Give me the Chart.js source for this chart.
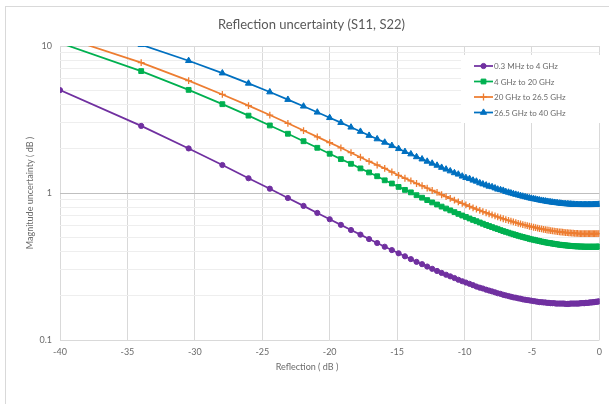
<!DOCTYPE html>
<html>
<head>
<meta charset="utf-8">
<title>Reflection uncertainty (S11, S22)</title>
<script src="https://cdn.jsdelivr.net/npm/chart.js@4.4.1/dist/chart.umd.min.js"></script>
<style>
  html, body { margin: 0; padding: 0; background: #fff; }
  #wrap { position: relative; width: 609px; height: 404px; }
</style>
</head>
<body>
<div id="wrap"><canvas id="my-chart" width="609" height="404"></canvas></div>
<script>
'use strict';

// ******** DATA **************
// x positions: reflection in dB (points step evenly in linear |rho|, so they crowd near 0 dB)
let reflectionDb = [
  -40.00, -33.98, -30.46, -27.96, -26.02, -24.44, -23.10, -21.94, -20.92, -20.00,
  -19.17, -18.42, -17.72, -17.08, -16.48, -15.92, -15.39, -14.89, -14.42, -13.98,
  -13.56, -13.15, -12.77, -12.40, -12.04, -11.70, -11.37, -11.06, -10.75, -10.46,
  -10.17, -9.90, -9.63, -9.37, -9.12, -8.87, -8.64, -8.40, -8.18, -7.96,
  -7.74, -7.54, -7.33, -7.13, -6.94, -6.74, -6.56, -6.38, -6.20, -6.02,
  -5.85, -5.68, -5.51, -5.35, -5.19, -5.04, -4.88, -4.73, -4.58, -4.44,
  -4.29, -4.15, -4.01, -3.88, -3.74, -3.61, -3.48, -3.35, -3.22, -3.10,
  -2.97, -2.85, -2.73, -2.62, -2.50, -2.38, -2.27, -2.16, -2.05, -1.94,
  -1.83, -1.72, -1.62, -1.51, -1.41, -1.31, -1.21, -1.11, -1.01, -0.92,
  -0.82, -0.72, -0.63, -0.54, -0.45, -0.35, -0.26, -0.18, -0.09, 0.00
];

// magnitude uncertainty (dB)
let bandLow = [
  5.01, 2.86, 2.01, 1.55, 1.26, 1.07, 0.925, 0.817, 0.732, 0.663,
  0.607, 0.560, 0.521, 0.486, 0.457, 0.431, 0.409, 0.389, 0.371, 0.355,
  0.340, 0.328, 0.316, 0.305, 0.295, 0.286, 0.278, 0.271, 0.264, 0.257,
  0.251, 0.246, 0.241, 0.236, 0.231, 0.227, 0.224, 0.220, 0.217, 0.214,
  0.211, 0.208, 0.206, 0.203, 0.201, 0.199, 0.197, 0.195, 0.194, 0.192,
  0.191, 0.189, 0.188, 0.187, 0.186, 0.185, 0.184, 0.183, 0.182, 0.181,
  0.181, 0.180, 0.180, 0.179, 0.179, 0.178, 0.178, 0.178, 0.177, 0.177,
  0.177, 0.177, 0.177, 0.177, 0.176, 0.176, 0.176, 0.177, 0.177, 0.177,
  0.177, 0.177, 0.177, 0.177, 0.178, 0.178, 0.178, 0.178, 0.179, 0.179,
  0.179, 0.180, 0.180, 0.180, 0.181, 0.181, 0.182, 0.182, 0.183, 0.183
];

let bandMid = [
  10.5, 6.75, 5.03, 4.02, 3.36, 2.88, 2.53, 2.25, 2.03, 1.85,
  1.70, 1.58, 1.47, 1.38, 1.30, 1.22, 1.16, 1.10, 1.05, 1.01,
  0.966, 0.929, 0.895, 0.863, 0.835, 0.808, 0.784, 0.762, 0.741, 0.721,
  0.703, 0.687, 0.671, 0.656, 0.643, 0.630, 0.618, 0.606, 0.596, 0.586,
  0.576, 0.568, 0.559, 0.551, 0.544, 0.537, 0.530, 0.524, 0.518, 0.512,
  0.507, 0.502, 0.497, 0.493, 0.488, 0.484, 0.481, 0.477, 0.474, 0.471,
  0.467, 0.465, 0.462, 0.459, 0.457, 0.455, 0.453, 0.451, 0.449, 0.447,
  0.445, 0.444, 0.442, 0.441, 0.440, 0.439, 0.438, 0.437, 0.436, 0.435,
  0.434, 0.434, 0.433, 0.433, 0.432, 0.432, 0.432, 0.431, 0.431, 0.431,
  0.431, 0.431, 0.431, 0.431, 0.431, 0.431, 0.431, 0.431, 0.432, 0.432
];

let bandHigh = [
  11.7, 7.70, 5.81, 4.68, 3.93, 3.39, 2.98, 2.66, 2.41, 2.20,
  2.03, 1.88, 1.75, 1.64, 1.55, 1.47, 1.39, 1.32, 1.26, 1.21,
  1.16, 1.12, 1.08, 1.04, 1.01, 0.973, 0.945, 0.918, 0.893, 0.870,
  0.849, 0.829, 0.810, 0.793, 0.776, 0.761, 0.747, 0.734, 0.721, 0.709,
  0.698, 0.687, 0.678, 0.668, 0.659, 0.651, 0.643, 0.636, 0.629, 0.622,
  0.616, 0.610, 0.604, 0.599, 0.594, 0.590, 0.585, 0.581, 0.577, 0.573,
  0.570, 0.566, 0.563, 0.560, 0.558, 0.555, 0.553, 0.550, 0.548, 0.546,
  0.544, 0.543, 0.541, 0.539, 0.538, 0.537, 0.536, 0.535, 0.534, 0.533,
  0.532, 0.531, 0.531, 0.530, 0.530, 0.529, 0.529, 0.529, 0.529, 0.529,
  0.529, 0.529, 0.529, 0.529, 0.529, 0.529, 0.530, 0.530, 0.530, 0.531
];

let bandTop = [
  14.8, 10.2, 7.94, 6.54, 5.57, 4.86, 4.32, 3.89, 3.54, 3.25,
  3.01, 2.80, 2.62, 2.46, 2.33, 2.21, 2.10, 2.00, 1.91, 1.84,
  1.76, 1.70, 1.64, 1.59, 1.54, 1.49, 1.45, 1.41, 1.37, 1.34,
  1.30, 1.27, 1.25, 1.22, 1.20, 1.17, 1.15, 1.13, 1.11, 1.10,
  1.08, 1.06, 1.05, 1.04, 1.02, 1.01, 0.998, 0.987, 0.977, 0.967,
  0.958, 0.949, 0.941, 0.933, 0.925, 0.918, 0.912, 0.906, 0.900, 0.894,
  0.889, 0.884, 0.880, 0.875, 0.871, 0.868, 0.864, 0.861, 0.858, 0.855,
  0.852, 0.850, 0.847, 0.845, 0.843, 0.842, 0.840, 0.839, 0.837, 0.836,
  0.835, 0.834, 0.834, 0.833, 0.832, 0.832, 0.832, 0.832, 0.832, 0.832,
  0.832, 0.832, 0.832, 0.832, 0.833, 0.833, 0.834, 0.834, 0.835, 0.836
];

let seriesNames = ['0.3 MHz to 4 GHz', '4 GHz to 20 GHz', '20 GHz to 26.5 GHz', '26.5 GHz to 40 GHz'];
let seriesValues = [bandLow, bandMid, bandHigh, bandTop];

// axis ticks
let xMin = -40;
let xMax = 0;
let xStep = 5;
let yTicks = [0.1, 0.2, 0.3, 0.4, 0.5, 0.6, 0.7, 0.8, 0.9, 1, 2, 3, 4, 5, 6, 7, 8, 9, 10];
let yLabelled = [0.1, 1, 10];

// ********* STYLES *************
let seriesColors = ['#7030a0', '#00b050', '#ed7d31', '#0070c0'];
let seriesMarkers = ['circle', 'rect', 'cross', 'triangle'];
let markerSizes = [2.6, 3.4, 3.4, 3.6];
let textGray = '#6b6b6b';
let fontName = 'Lato';

// ********* BUILD DATASETS *************
let datasets = [];
for (let i = 0; i < seriesNames.length; i++) {
  let pts = [];
  for (let j = 0; j < reflectionDb.length; j++) {
    pts.push({ x: reflectionDb[j], y: seriesValues[i][j] });
  }
  datasets.push({
    label: seriesNames[i],
    data: pts,
    borderColor: seriesColors[i],
    backgroundColor: seriesColors[i],
    borderWidth: 1.75,
    pointStyle: seriesMarkers[i],
    pointRadius: markerSizes[i],
    pointBorderWidth: seriesMarkers[i] === 'cross' ? 1.3 : 1,
    pointHoverRadius: markerSizes[i],
    tension: 0,
    order: seriesNames.length - i
  });
}

// ********* PLUGINS (frame, legend box, x title) *************
let framePlugin = {
  id: 'framePlugin',
  beforeDraw(chart) {
    let ctx = chart.ctx;
    ctx.save();
    ctx.fillStyle = '#ffffff';
    ctx.fillRect(0, 0, chart.width, chart.height);
    ctx.strokeStyle = '#d9d9d9';
    ctx.lineWidth = 1;
    ctx.strokeRect(5.5, 6.5, 640, 440);
    ctx.restore();
  }
};

let legendPlugin = {
  id: 'legendPlugin',
  afterDatasetsDraw(chart) {
    let ctx = chart.ctx;
    ctx.save();
    ctx.fillStyle = '#ffffff';
    ctx.fillRect(461, 55, 140, 68);
    chart.data.datasets.forEach((ds, i) => {
      let y = 66 + i * 15.5;
      ctx.strokeStyle = ds.borderColor;
      ctx.fillStyle = ds.backgroundColor;
      ctx.lineWidth = 1.75;
      ctx.beginPath();
      ctx.moveTo(474, y);
      ctx.lineTo(493, y);
      ctx.stroke();
      ctx.lineWidth = ds.pointBorderWidth;
      Chart.helpers.drawPoint(ctx, {
        pointStyle: ds.pointStyle,
        radius: ds.pointRadius,
        rotation: 0,
        borderWidth: ds.pointBorderWidth
      }, 483.5, y);
      ctx.fillStyle = textGray;
      ctx.font = '8px ' + fontName;
      ctx.textAlign = 'left';
      ctx.textBaseline = 'middle';
      ctx.fillText(ds.label, 494, y + 0.5);
    });

    // x axis title, centred like the original
    ctx.fillStyle = textGray;
    ctx.font = '9px ' + fontName;
    ctx.textAlign = 'center';
    ctx.textBaseline = 'middle';
    ctx.fillText('Reflection ( dB )', 307, 367);
    ctx.restore();
  }
};

// ********* CHART *************
let canvasElem = document.getElementById('my-chart');

let config = {
  type: 'line',
  data: { datasets: datasets },
  options: {
    responsive: false,
    animation: false,
    devicePixelRatio: 1,
    layout: { padding: { left: 14, right: 0, top: 0, bottom: 0 } },
    plugins: {
      legend: { display: false },
      tooltip: { enabled: false },
      title: {
        display: true,
        text: 'Reflection uncertainty (S11, S22)',
        color: '#595959',
        font: { family: fontName, size: 13, weight: 'normal' },
        padding: { top: 17, bottom: 13.4 }
      }
    },
    scales: {
      x: {
        type: 'linear',
        min: xMin,
        max: xMax,
        ticks: {
          stepSize: xStep,
          color: textGray,
          font: { family: fontName, size: 9 },
          padding: 7,
          maxRotation: 0
        },
        grid: { color: '#d9d9d9', drawTicks: false },
        border: { display: false },
        afterFit: (s) => { s.height = 64; }
      },
      y: {
        type: 'logarithmic',
        min: 0.1,
        max: 10,
        afterBuildTicks: (s) => {
          s.ticks = yTicks.map((v) => ({ value: v }));
        },
        ticks: {
          autoSkip: false,
          color: textGray,
          font: { family: fontName, size: 9 },
          padding: 8,
          callback: (v) => (yLabelled.includes(v) ? String(v) : '')
        },
        grid: {
          drawTicks: false,
          color: (c) => {
            let v = c.tick ? c.tick.value : 0;
            if (v === 1) return '#bfbfbf';
            if (yLabelled.includes(v)) return '#d9d9d9';
            return '#eeeeee';
          }
        },
        border: { display: false },
        title: {
          display: true,
          text: 'Magnitude uncertainty ( dB )',
          color: textGray,
          font: { family: fontName, size: 9 },
          padding: { top: 11, bottom: 0 }
        },
        afterFit: (s) => { s.width = 46; }
      }
    }
  },
  plugins: [framePlugin, legendPlugin]
};

new Chart(canvasElem, config);
</script>
</body>
</html>
